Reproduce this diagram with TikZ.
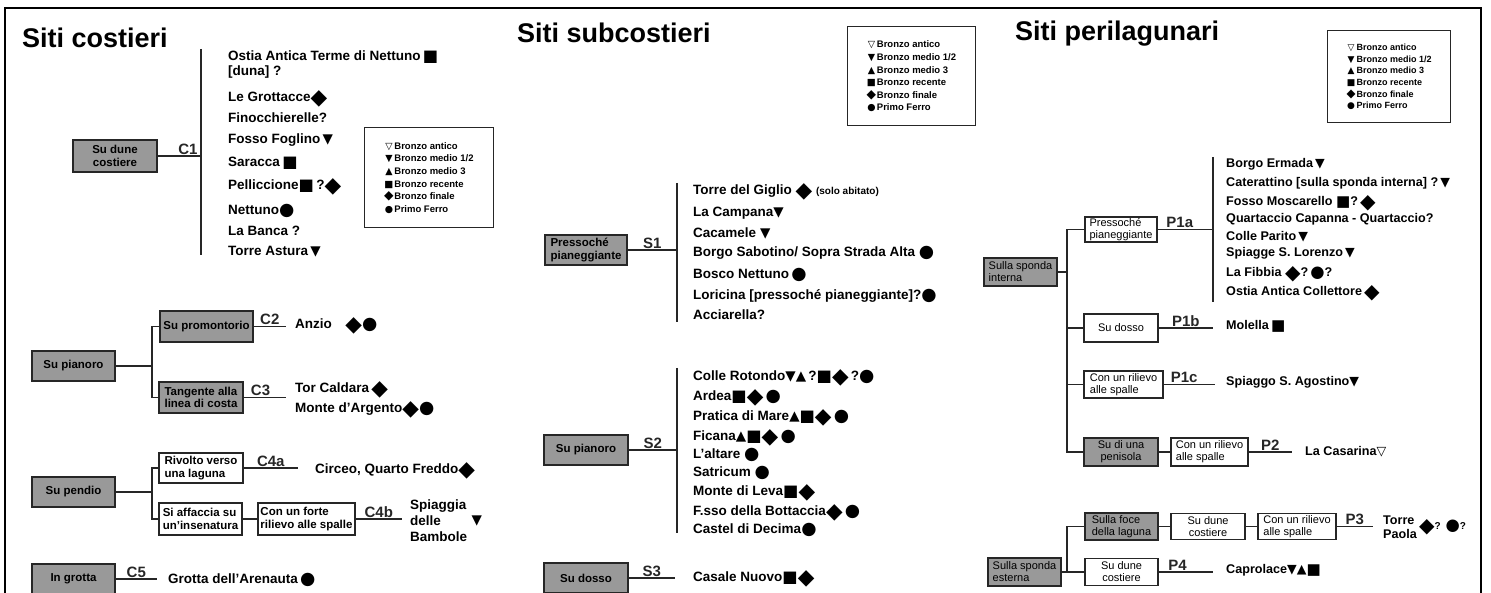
\documentclass[tikz,border=0pt]{standalone}
\usepackage{fontspec}
\setmainfont{Liberation Sans}
\newfontfamily\symf{DejaVu Sans}
\usetikzlibrary{positioning}

\newcommand{\antico}{{\symf ▽}}
\newcommand{\mediodue}{{\symf ▼}}
\newcommand{\mediotre}{{\symf ▲}}
\newcommand{\recente}{{\symf\raisebox{-0.08em}{\scalebox{1.2}{■}}}}
\newcommand{\finale}{{\symf\raisebox{-0.2em}{\scalebox{1.6}{◆}}}}
\newcommand{\ferro}{{\symf\raisebox{-0.1em}{\scalebox{1.3}{●}}}}
\newcommand{\legendatesto}{%
  \makebox[11pt][c]{\symf ▽}Bronzo antico\\
  \makebox[11pt][c]{\symf ▼}Bronzo medio 1/2\\
  \makebox[11pt][c]{\symf ▲}Bronzo medio 3\\
  \makebox[11pt][c]{\symf ■}Bronzo recente\\
  \makebox[11pt][c]{\symf\scalebox{1.3}{◆}}Bronzo finale\\
  \makebox[11pt][c]{\symf ●}Primo Ferro}

\begin{document}
\begin{tikzpicture}[x=1pt,y=-1pt,
    ramo/.style={line width=1.3pt, black!85},
    grigio/.style={draw=black!85, fill=black!40, line width=1.2pt, inner sep=1pt,
      align=left, font=\bfseries\fontsize{11.5}{12.5}\selectfont},
    bianco/.style={grigio, fill=white},
    grigiop/.style={grigio, font=\fontsize{11}{12}\selectfont},
    biancop/.style={bianco, font=\fontsize{11}{12}\selectfont},
    voce/.style={anchor=west, inner sep=0pt, font=\bfseries\fontsize{13.5}{16}\selectfont},
    sito/.style={voce, text height=10pt, text depth=3pt},
    sitop/.style={sito, font=\bfseries\fontsize{12.6}{14}\selectfont},
    sigla/.style={inner sep=1pt, font=\bfseries\fontsize{15}{15}\selectfont},
    legenda/.style={draw=black!85, line width=1pt, align=left, inner sep=0pt,
      font=\bfseries\fontsize{9.5}{12.6}\selectfont},
    titolo/.style={anchor=west, inner sep=0pt, font=\bfseries\fontsize{27}{27}\selectfont}]

    \useasboundingbox (0,0) rectangle (1491,593);
    % cornice
    \draw[line width=2pt] (5,593) |- (1481,8) -- (1481,593);

    % titoli e legende
    \node[titolo] (tcost) at (22,38) {Siti costieri};
    \node[titolo] (tsub) at (517,33) {Siti subcostieri};
    \node[titolo] (tperi) at (1015,34) {Siti perilagunari};
    \node[legenda, minimum width=129, minimum height=100] (leg1) at (428.5,178) {\legendatesto};
    \node[legenda, minimum width=128, minimum height=99] (leg2) at (911,76.5) {\legendatesto};
    \node[legenda, minimum width=123, minimum height=92,
      font=\bfseries\fontsize{9}{11.6}\selectfont] (leg3) at (1388.5,77) {\legendatesto};

    % siti costieri: C1
    \node[grigio, minimum width=84, minimum height=32, align=center] (dune) at (115,156) {Su dune\\costiere};
    \coordinate (c1top) at (201,49);
    \coordinate (c1bot) at (201,255);
    \draw[ramo] (c1top) -- (c1bot);
    \draw[ramo] (dune.east) -- (dune.east -| c1top) node[sigla, pos=0.7, above] {C1};
    \node[sito] (ostia) at (228,57) {Ostia Antica Terme di Nettuno\,\recente};
    \node[sito] (duna) at (228,72) {[duna] ?};
    \node[sito] (grottacce) at (228,98) {Le Grottacce\finale};
    \node[sito] (finoc) at (228,119) {Finocchierelle?};
    \node[sito] (foglino) at (228,140) {Fosso Foglino\,\mediodue};
    \node[sito] (saracca) at (228,163) {Saracca\,\recente};
    \node[sito] (pellic) at (228,186) {Pelliccione\recente\,?\finale};
    \node[sito] (nettuno) at (228,211) {Nettuno\ferro};
    \node[sito] (banca) at (228,232) {La Banca ?};
    \node[sito] (astura) at (228,252) {Torre Astura\,\mediodue};

    % C2, C3
    \node[grigio, minimum width=83, minimum height=30] (pian) at (73.5,366) {Su pianoro};
    \node[grigio, minimum width=93, minimum height=31] (prom) at (206.5,326.5) {Su promontorio};
    \node[grigio, minimum width=84, minimum height=31] (tang) at (201,397.5) {Tangente alla\\linea di costa};
    \coordinate (b1) at (152,366);
    \draw[ramo] (pian) -- (b1);
    \draw[ramo] (prom.west) -| (b1) |- (tang.west);
    \coordinate (c2e) at (286,326.5);
    \draw[ramo] (prom) -- (c2e) node[sigla, midway, above] {C2};
    \node[sito] (anzio) at (295,325) {Anzio\quad\finale\ferro};
    \coordinate (c3e) at (286,397.5);
    \draw[ramo] (tang) -- (c3e) node[sigla, pos=0.4, above] {C3};
    \node[sito] (torcal) at (295,389) {Tor Caldara\,\finale};
    \node[sito] (argento) at (295,409) {Monte d'Argento\finale\ferro};

    % C4a, C4b
    \node[grigio, minimum width=83, minimum height=30] (pend) at (73.5,492) {Su pendio};
    \node[bianco, minimum width=84, minimum height=30] (rivolto) at (201,468) {Rivolto verso\\una laguna};
    \node[bianco, minimum width=83, minimum height=32] (affac) at (200.5,519) {Si affaccia su\\un'insenatura};
    \node[bianco, minimum width=97, minimum height=32] (forte) at (306.5,519) {Con un forte\\rilievo alle spalle};
    \coordinate (b2) at (152,492);
    \draw[ramo] (pend) -- (b2);
    \draw[ramo] (rivolto.west) -| (b2) |- (affac.west);
    \coordinate (c4ae) at (298,468);
    \draw[ramo] (rivolto) -- (c4ae) node[sigla, midway, above] {C4a};
    \node[sito] (circeo) at (315,470) {Circeo, Quarto Freddo\finale};
    \draw[ramo] (affac) -- (forte);
    \coordinate (c4be) at (402,519);
    \draw[ramo] (forte) -- (c4be) node[sigla, midway, above] {C4b};
    \node[voce, align=left] (bambole) at (410,521) {Spiaggia\\delle\\Bambole};
    \node[voce, right=4pt of bambole] (bambsim) {\mediodue};

    % C5
    \node[grigio, minimum width=83, minimum height=30] (grotta) at (73.5,579) {In grotta};
    \coordinate (c5e) at (157,579);
    \draw[ramo] (grotta) -- (c5e) node[sigla, midway, above] {C5};
    \node[sito] (arenauta) at (168,580) {Grotta dell'Arenauta\,\ferro};

    % siti subcostieri: S1
    \node[grigio, minimum width=82, minimum height=30] (pressS) at (586,250) {Pressoché\\pianeggiante};
    \coordinate (s1top) at (677,183);
    \coordinate (s1bot) at (677,322);
    \draw[ramo] (s1top) -- (s1bot);
    \draw[ramo] (pressS) -- (pressS -| s1top) node[sigla, midway, above] {S1};
    \node[sito] (giglio) at (693,191) {Torre del Giglio \finale\ {\fontsize{10}{10}\selectfont(solo abitato)}};
    \node[sito] (campana) at (693,213) {La Campana\mediodue};
    \node[sito] (cacamele) at (693,234) {Cacamele \mediodue};
    \node[sito] (sabotino) at (693,253) {Borgo Sabotino/ Sopra Strada Alta \ferro};
    \node[sito] (bosco) at (693,275) {Bosco Nettuno\,\ferro};
    \node[sito] (loricina) at (693,296) {Loricina [pressoché pianeggiante]?\ferro};
    \node[sito] (acciar) at (693,316) {Acciarella?};

    % S2
    \node[grigio, minimum width=84, minimum height=30] (pianS) at (586,450) {Su pianoro};
    \coordinate (s2top) at (677,368);
    \coordinate (s2bot) at (677,533);
    \draw[ramo] (s2top) -- (s2bot);
    \draw[ramo] (pianS) -- (pianS -| s2top) node[sigla, midway, above] {S2};
    \node[sito] (rotondo) at (693,377) {Colle Rotondo\mediodue\mediotre\,?\recente\finale\,?\ferro};
    \node[sito] (ardea) at (693,397) {Ardea\recente\finale\,\ferro};
    \node[sito] (pratica) at (693,417) {Pratica di Mare\mediotre\recente\finale\,\ferro};
    \node[sito] (ficana) at (693,437) {Ficana\mediotre\recente\finale\,\ferro};
    \node[sito] (altare) at (693,455) {L'altare \ferro};
    \node[sito] (satricum) at (693,473) {Satricum \ferro};
    \node[sito] (leva) at (693,492) {Monte di Leva\recente\finale};
    \node[sito] (bottaccia) at (693,512) {F.sso della Bottaccia\finale\,\ferro};
    \node[sito] (decima) at (693,530) {Castel di Decima\ferro};

    % S3
    \node[grigio, minimum width=84, minimum height=30] (dossoS) at (586,578) {Su dosso};
    \coordinate (s3e) at (675,578);
    \draw[ramo] (dossoS) -- (s3e) node[sigla, midway, above] {S3};
    \node[sito] (casale) at (693,578) {Casale Nuovo\recente\finale};

    % siti perilagunari: sponda interna
    \node[grigiop, minimum width=73, minimum height=28] (interna) at (1020.5,272) {Sulla sponda\\interna};
    \node[biancop, minimum width=72, minimum height=25] (pressP) at (1121,229.5) {Pressoché\\pianeggiante};
    \node[biancop, minimum width=74, minimum height=28] (dossoP) at (1121,328) {Su dosso};
    \node[biancop, minimum width=79, minimum height=27] (rilievoA) at (1123.5,384.5) {Con un rilievo\\alle spalle};
    \node[grigiop, minimum width=74, minimum height=28, align=center] (penisola) at (1121,452) {Su di una\\penisola};
    \node[biancop, minimum width=77, minimum height=28] (rilievoB) at (1209.5,452) {Con un rilievo\\alle spalle};
    \coordinate (b3) at (1067,272);
    \draw[ramo] (interna) -- (b3);
    \draw[ramo] (pressP.west) -| (b3) |- (penisola.west);
    \draw[ramo] (dossoP.west) -- (dossoP.west -| b3);
    \draw[ramo] (rilievoA.west) -- (rilievoA.west -| b3);
    \coordinate (p1top) at (1213,157);
    \coordinate (p1bot) at (1213,302);
    \draw[ramo] (p1top) -- (p1bot);
    \draw[ramo] (pressP) -- (pressP -| p1top) node[sigla, pos=0.4, above] {P1a};
    \node[sitop] (ermada) at (1226,164) {Borgo Ermada\,\mediodue};
    \node[sitop] (caterattino) at (1226,183) {Caterattino [sulla sponda interna] ?\,\mediodue};
    \node[sitop] (moscarello) at (1226,202) {Fosso Moscarello \recente?\,\finale};
    \node[sitop] (quartaccio) at (1226,219) {Quartaccio Capanna - Quartaccio?};
    \node[sitop] (parito) at (1226,237) {Colle Parito\,\mediodue};
    \node[sitop] (lorenzo) at (1226,253) {Spiagge S. Lorenzo\,\mediodue};
    \node[sitop] (fibbia) at (1226,273) {La Fibbia \finale?\,\ferro?};
    \node[sitop] (collettore) at (1226,292) {Ostia Antica Collettore\,\finale};
    \coordinate (p1be) at (1213,328);
    \draw[ramo] (dossoP) -- (p1be) node[sigla, midway, above] {P1b};
    \node[sitop] (molella) at (1226,326) {Molella\,\recente};
    \coordinate (p1ce) at (1215,384.5);
    \draw[ramo] (rilievoA) -- (p1ce) node[sigla, pos=0.4, above] {P1c};
    \node[sitop] (agostino) at (1226,382) {Spiaggo S. Agostino\mediodue};
    \draw[ramo] (penisola) -- (rilievoB);
    \coordinate (p2e) at (1292,452);
    \draw[ramo] (rilievoB) -- (p2e) node[sigla, midway, above] {P2};
    \node[sitop] (casarina) at (1305,452) {La Casarina\antico};

    % sponda esterna
    \node[grigiop, minimum width=73, minimum height=28] (esterna) at (1024.5,572) {Sulla sponda\\esterna};
    \node[grigiop, minimum width=73, minimum height=27] (foce) at (1121.5,526.5) {Sulla foce\\della laguna};
    \node[biancop, minimum width=74, minimum height=26, align=center] (duneA) at (1208,526.5) {Su dune\\costiere};
    \node[biancop, minimum width=78, minimum height=26] (rilievoC) at (1297,526.5) {Con un rilievo\\alle spalle};
    \node[biancop, minimum width=73, minimum height=27, align=center] (duneB) at (1121.5,572) {Su dune\\costiere};
    \coordinate (b4) at (1067,572);
    \draw[ramo] (esterna) -- (duneB);
    \draw[ramo] (foce.west) -| (b4);
    \draw[ramo] (foce) -- (duneA);
    \draw[ramo] (duneA) -- (rilievoC);
    \coordinate (p3e) at (1373,526.5);
    \draw[ramo] (rilievoC) -- (p3e) node[sigla, midway, above] {P3};
    \node[voce, align=left, font=\bfseries\fontsize{12.6}{14}\selectfont] (paola) at (1383,527) {Torre\\Paola};
    \node[voce, right=2pt of paola, font=\bfseries\fontsize{12.6}{14}\selectfont] (paolasim) {\finale{\fontsize{10}{10}\selectfont?} \ferro{\fontsize{10}{10}\selectfont?}};
    \coordinate (p4e) at (1213,572);
    \draw[ramo] (duneB) -- (p4e) node[sigla, pos=0.35, above] {P4};
    \node[sitop] (caprolace) at (1226,570) {Caprolace\mediodue\mediotre\recente};
\end{tikzpicture}
\end{document}
